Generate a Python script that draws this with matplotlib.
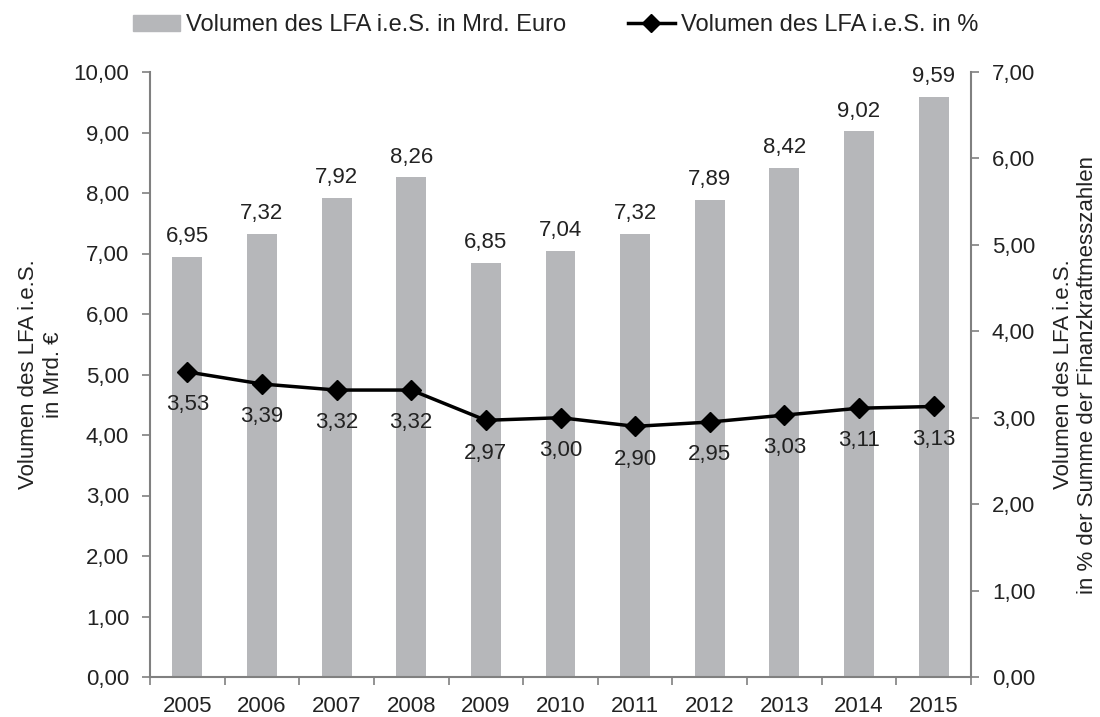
import matplotlib.pyplot as plt
from matplotlib.lines import Line2D
from matplotlib.patches import Patch

plt.rcParams["font.family"] = ["Liberation Sans", "DejaVu Sans"]

years = ["2005", "2006", "2007", "2008", "2009", "2010", "2011", "2012", "2013", "2014", "2015"]
volume_bn = [6.95, 7.32, 7.92, 8.26, 6.85, 7.04, 7.32, 7.89, 8.42, 9.02, 9.59]
volume_pct = [3.53, 3.39, 3.32, 3.32, 2.97, 3.00, 2.90, 2.95, 3.03, 3.11, 3.13]

BAR = "#b6b7ba"
AXIS = "#808080"
TXT = "#222222"
FS = 16


def de(v):
    return f"{v:.2f}".replace(".", ",")


fig = plt.figure(figsize=(11, 7.17), dpi=100)
ax = fig.add_axes([150 / 1100, 40 / 717, 821 / 1100, 605 / 717])
ax2 = ax.twinx()

x = list(range(len(years)))
ax.bar(x, volume_bn, width=0.4, color=BAR, zorder=2)
for xi, v in zip(x, volume_bn):
    ax.annotate(de(v), (xi, v), xytext=(0, 7), textcoords="offset points",
                ha="center", va="bottom", fontsize=FS, color=TXT)

ax2.plot(x, volume_pct, color="black", lw=2.5, marker="D", ms=10, zorder=3)
for xi, v in zip(x, volume_pct):
    ax2.annotate(de(v), (xi, v), xytext=(0, -16), textcoords="offset points",
                 ha="center", va="top", fontsize=FS, color=TXT)

ax.set_xlim(-0.5, len(years) - 0.5)
ax.set_ylim(0, 10)
ax2.set_ylim(0, 7)
ax.set_yticks([i for i in range(11)])
ax.set_yticklabels([de(i) for i in range(11)])
ax2.set_yticks([i for i in range(8)])
ax2.set_yticklabels([de(i) for i in range(8)])
ax.set_xticks(x)
ax.set_xticklabels(years)
ax.set_xticks([i - 0.5 for i in range(len(years) + 1)], minor=True)
ax.tick_params(axis="x", which="major", length=0, pad=14, labelsize=FS, labelcolor=TXT)
ax.tick_params(axis="x", which="minor", length=6, color=AXIS, width=1.2)

for a in (ax, ax2):
    for s in a.spines.values():
        s.set_visible(False)
    a.tick_params(axis="y", length=6, color=AXIS, width=1.2, labelsize=FS,
                  pad=9, labelcolor=TXT)
ax.spines["left"].set_visible(True)
ax.spines["bottom"].set_visible(True)
ax2.spines["right"].set_visible(True)
for s in (ax.spines["left"], ax.spines["bottom"], ax2.spines["right"]):
    s.set_color(AXIS)
    s.set_linewidth(1.5)

ax.set_ylabel("Volumen des LFA i.e.S.\nin Mrd. €", fontsize=FS, labelpad=7, color=TXT)
ax2.set_ylabel("Volumen des LFA i.e.S.\nin % der Summe der Finanzkraftmesszahlen",
               fontsize=FS, rotation=90, labelpad=13, color=TXT)

handles = [Patch(color=BAR),
           Line2D([0], [0], color="black", lw=2.5, marker="D", ms=9)]
labels = ["Volumen des LFA i.e.S. in Mrd. Euro", "Volumen des LFA i.e.S. in %"]
leg = fig.legend(handles, labels, loc="center", bbox_to_anchor=(0.505, 0.965), ncol=2,
                 frameon=False, fontsize=17, handlelength=2.0, handletextpad=0.25,
                 columnspacing=2.6)
for t in leg.get_texts():
    t.set_color(TXT)

fig.savefig("out.png", dpi=100)
